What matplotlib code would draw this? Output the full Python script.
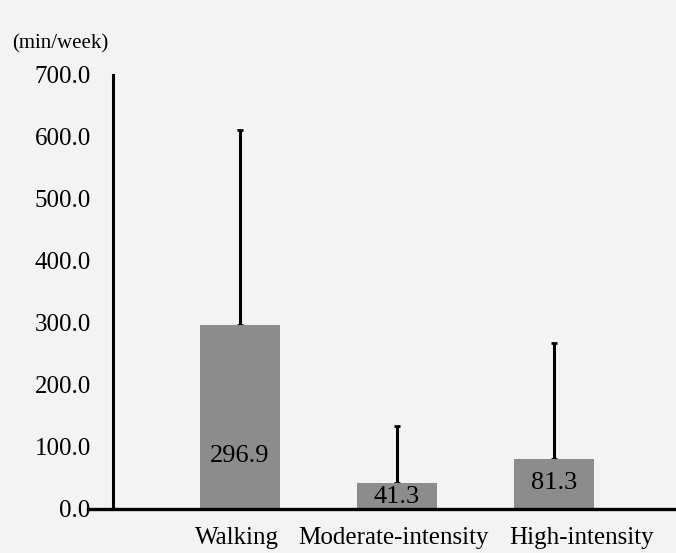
import numpy as np
import matplotlib
matplotlib.use('Agg')
import matplotlib.pyplot as plt

categories = ['Walking', 'Moderate-intensity', 'High-intensity']
means = [296.9, 41.3, 81.3]
sd_upper = [314.0, 93.0, 187.0]
yticks = [0, 100, 200, 300, 400, 500, 600, 700]

# layout-only tweaks (label heights inside bars, x-label nudges)
value_label_y = [86, 19, 42]
xlabel_nudge = [-0.016, -0.02, 0.175]

plt.rcParams['font.family'] = ['Liberation Serif', 'DejaVu Serif']

fig = plt.figure(figsize=(6.76, 5.53), dpi=100, facecolor='#f3f3f3')
ax = fig.add_axes([0.167, 0.0796, 0.833, 0.785])
ax.set_facecolor('#f3f3f3')

x = np.arange(len(categories))
ax.bar(x, means, width=0.51, color='#8c8c8c', zorder=2)
ax.errorbar(x, means, yerr=[np.zeros(len(means)), sd_upper], fmt='none',
            ecolor='black', elinewidth=2.2, capsize=2.5, capthick=2, zorder=1)

for xi, v, ly in zip(x, means, value_label_y):
    ax.text(xi, ly, f'{v:.1f}', ha='center', va='center', fontsize=19, zorder=3)

ax.set_xlim(-0.809, 2.777)
ax.set_ylim(0, 700)
ax.set_yticks(yticks)
ax.set_yticklabels([f'{t:.1f}' for t in yticks], fontsize=18)
ax.set_xticks(x + np.array(xlabel_nudge))
ax.set_xticklabels(categories, fontsize=18)
ax.tick_params(axis='both', length=0)
ax.tick_params(axis='y', pad=16)
ax.tick_params(axis='x', pad=13)

for s in ['top', 'right', 'bottom']:
    ax.spines[s].set_visible(False)
ax.spines['left'].set_linewidth(2.2)
ax.axhline(0, xmin=-0.045, xmax=1.0, color='black', lw=2.4, clip_on=False, zorder=4)

fig.text(0.018, 0.92, '(min/week)', fontsize=15, ha='left', va='center')

fig.savefig('out.png', dpi=100, facecolor=fig.get_facecolor())
